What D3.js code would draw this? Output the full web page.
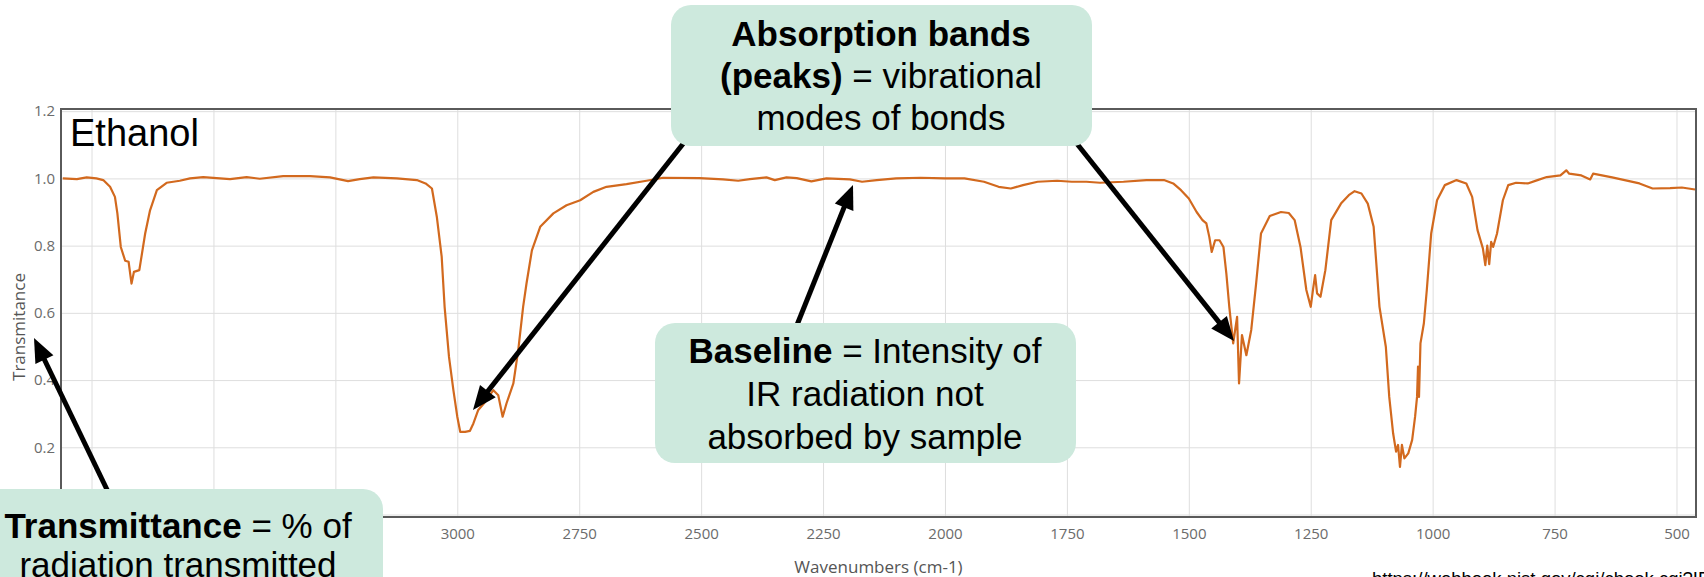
<!DOCTYPE html>
<html>
<head>
<meta charset="utf-8">
<script src="https://cdn.jsdelivr.net/npm/d3@7"></script>
<style>
    body { margin: 0; background: #fff; overflow: hidden; }
    .grid line { stroke: #dedede; stroke-width: 1; }
    .grid path { display: none; }
    .grid text { fill: #6b6b6b; font-family: "Open Sans", sans-serif; font-size: 15px; }
    .note text { font-family: "Liberation Sans", Arial, sans-serif; font-size: 35px; fill: #000; }
</style>
</head>
<body>
<svg id="spectrum" width="1704" height="577"></svg>
<script>
// IR spectrum of ethanol (wavenumber cm-1 -> transmittance)
const wavenumbers = [
    3809, 3780, 3760, 3740, 3726, 3712, 3702, 3697, 3690, 3681, 3674, 3668, 3663, 3652, 3640, 3630,
    3616, 3596, 3569, 3548, 3521, 3466, 3432, 3405, 3357, 3302, 3261, 3224, 3200, 3172, 3124, 3083,
    3065, 3052, 3042, 3032, 3026, 3017, 3008, 3000, 2994, 2984, 2974, 2967, 2957, 2943, 2926, 2916,
    2907, 2899, 2885, 2875, 2865, 2858, 2847, 2830, 2803, 2776, 2748, 2721, 2694, 2653, 2612, 2578,
    2503, 2455, 2424, 2400, 2366, 2349, 2325, 2304, 2274, 2243, 2195, 2170, 2140, 2100, 2050, 2000,
    1960, 1920, 1890, 1865, 1840, 1810, 1770, 1740, 1710, 1682, 1634, 1587, 1551, 1532, 1516, 1500,
    1484, 1472, 1464, 1458, 1453, 1446, 1437, 1429, 1423, 1417, 1409, 1405, 1401, 1397, 1391, 1382,
    1372, 1362, 1352, 1334, 1311, 1295, 1283, 1271, 1259, 1250, 1245, 1241, 1237, 1230, 1220, 1208,
    1188, 1172, 1160, 1146, 1133, 1121, 1109, 1096, 1089, 1081, 1075, 1071, 1067, 1063, 1058, 1050,
    1042, 1036, 1032, 1030, 1028, 1025, 1018, 1012, 1003, 991, 975, 951, 931, 919, 908, 897,
    892, 888, 884, 880, 876, 868, 856, 845, 829, 805, 785, 766, 738, 726, 720, 695,
    677, 671, 632, 576, 549, 513, 489, 462
];
const transmittance = [
    1.0, 0.998, 1.003, 1.0, 0.995, 0.975, 0.945, 0.896, 0.796, 0.755, 0.752, 0.687, 0.722, 0.727, 0.836, 0.905,
    0.965, 0.987, 0.993, 1.0, 1.004, 0.998, 1.004, 0.999, 1.007, 1.007, 1.003, 0.992, 0.998, 1.003, 1.0, 0.995,
    0.985, 0.97, 0.886, 0.767, 0.618, 0.469, 0.37, 0.291, 0.246, 0.246, 0.249, 0.271, 0.311, 0.335, 0.37, 0.355,
    0.291, 0.331, 0.39, 0.489, 0.618, 0.688, 0.786, 0.856, 0.896, 0.92, 0.935, 0.96, 0.975, 0.983, 0.993, 1.002,
    1.001, 0.997, 0.993, 0.998, 1.003, 0.995, 1.003, 1.001, 0.991, 1.0, 0.997, 0.99, 0.995, 1.0, 1.002, 1.0,
    1.0, 0.99, 0.975, 0.97, 0.98, 0.99, 0.993, 0.99, 0.99, 0.987, 0.99, 0.995, 0.995, 0.985, 0.965, 0.94,
    0.9, 0.876, 0.866, 0.826, 0.781, 0.816, 0.816, 0.796, 0.717, 0.618, 0.509, 0.549, 0.588, 0.39, 0.534, 0.474,
    0.549, 0.687, 0.836, 0.888, 0.9, 0.897, 0.876, 0.796, 0.668, 0.618, 0.673, 0.712, 0.658, 0.648, 0.727, 0.876,
    0.925, 0.95, 0.962, 0.955, 0.925, 0.856, 0.618, 0.499, 0.35, 0.241, 0.187, 0.207, 0.142, 0.207, 0.167, 0.182,
    0.222, 0.291, 0.35, 0.44, 0.35, 0.509, 0.569, 0.668, 0.836, 0.935, 0.98, 0.995, 0.985, 0.945, 0.846, 0.792,
    0.742, 0.8, 0.745, 0.811, 0.796, 0.836, 0.935, 0.98, 0.987, 0.985, 0.995, 1.004, 1.009, 1.024, 1.014, 1.009,
    0.997, 1.014, 1.003, 0.985, 0.97, 0.971, 0.973, 0.967
];

const xTicks = [3750, 3500, 3250, 3000, 2750, 2500, 2250, 2000, 1750, 1500, 1250, 1000, 750, 500];
const yTicks = [0, 0.2, 0.4, 0.6, 0.8, 1.0, 1.2];

const xTitle = "Wavenumbers (cm-1)";
const yTitle = "Transmitance";
const sampleName = "Ethanol";
const sourceUrl = "https://webbook.nist.gov/cgi/cbook.cgi?ID=C64175&Type=IR-SPEC";

// callout texts: each line is a list of [text, bold]
const peaksNote = [
    [["Absorption bands", true]],
    [["(peaks)", true], [" = vibrational", false]],
    [["modes of bonds", false]]
];
const baselineNote = [
    [["Baseline", true], [" = Intensity of", false]],
    [["IR radiation not", false]],
    [["absorbed by sample", false]]
];
const transNote = [
    [["Transmittance", true], [" = % of", false]],
    [["radiation transmitted", false]]
];

const drawSpectrum = ()=>{
    let svg = d3.select("#spectrum");

    let margin = {
        top: 109,
        left: 61,
        right: 8,
        bottom: 60
    };

    let width = svg.attr("width") - margin.left - margin.right;
    let height = svg.attr("height") - margin.top - margin.bottom;

    let g = svg.append("g").attr("transform", "translate(" + margin.left + "," + margin.top + ")");

    let xScale = d3.scaleLinear().range([0, width]).domain([3812.6, 460]);
    let yScale = d3.scaleLinear().range([height, 0]).domain([-0.0074, 1.2065]);

    let xAxis = d3.axisBottom(xScale).tickValues(xTicks).tickSize(-height).tickPadding(11)
        .tickFormat(d3.format("d"));
    let yAxis = d3.axisLeft(yScale).tickValues(yTicks).tickSize(-width).tickPadding(6)
        .tickFormat(d3.format(".1f"));

    g.append("g")
        .attr("class", "grid")
        .attr("transform", "translate(0," + height + ")")
        .call(xAxis);

    g.append("g")
        .attr("class", "grid")
        .call(yAxis);

    g.append("rect")
        .attr("width", width)
        .attr("height", height)
        .attr("fill", "none")
        .attr("stroke", "#5a5a5a")
        .attr("stroke-width", 2);

    let points = wavenumbers.map((w, i)=>[w, transmittance[i]]);

    let line = d3.line()
        .x((d)=>xScale(d[0]))
        .y((d)=>yScale(d[1]));

    g.append("path")
        .datum(points)
        .attr("d", line)
        .attr("fill", "none")
        .attr("stroke", "#d2691e")
        .attr("stroke-width", 2.2)
        .attr("stroke-linejoin", "round");

    svg.append("text")
        .text(xTitle)
        .attr("x", margin.left + width / 2)
        .attr("y", 573)
        .attr("text-anchor", "middle")
        .attr("font-family", "Open Sans, sans-serif")
        .attr("font-size", "17px")
        .attr("fill", "#555");

    svg.append("text")
        .text(yTitle)
        .attr("transform", "translate(25,327) rotate(-90)")
        .attr("text-anchor", "middle")
        .attr("font-family", "Open Sans, sans-serif")
        .attr("font-size", "17px")
        .attr("fill", "#555");

    svg.append("text")
        .text(sampleName)
        .attr("x", 70)
        .attr("y", 146)
        .attr("font-family", "Liberation Sans, Arial, sans-serif")
        .attr("font-size", "38px")
        .attr("fill", "#000");

    svg.append("text")
        .text(sourceUrl)
        .attr("x", 1372)
        .attr("y", 585)
        .attr("font-family", "Liberation Sans, Arial, sans-serif")
        .attr("font-size", "18.5px")
        .attr("fill", "#000");
}

const drawArrow = (svg, x1, y1, x2, y2)=>{
    let len = Math.hypot(x2 - x1, y2 - y1);
    let ux = (x2 - x1) / len, uy = (y2 - y1) / len;
    let headL = 24, headW = 20;
    let bx = x2 - ux * headL, by = y2 - uy * headL;

    svg.append("line")
        .attr("x1", x1).attr("y1", y1)
        .attr("x2", bx + ux * 4).attr("y2", by + uy * 4)
        .attr("stroke", "#000")
        .attr("stroke-width", 5);

    svg.append("polygon")
        .attr("points", [
            [x2, y2],
            [bx - uy * headW / 2, by + ux * headW / 2],
            [bx + uy * headW / 2, by - ux * headW / 2]
        ].map((p)=>p.join(",")).join(" "))
        .attr("fill", "#000");
}

const drawNote = (svg, lines, box, cx, firstBaseline, lineGap)=>{
    let note = svg.append("g").attr("class", "note");

    note.append("rect")
        .attr("x", box[0])
        .attr("y", box[1])
        .attr("width", box[2])
        .attr("height", box[3])
        .attr("rx", 20)
        .attr("fill", "#cde9dd");

    lines.forEach((parts, i)=>{
        let t = note.append("text")
            .attr("x", cx)
            .attr("y", firstBaseline + i * lineGap)
            .attr("text-anchor", "middle");
        parts.forEach((p)=>{
            t.append("tspan")
                .text(p[0])
                .attr("font-weight", p[1] ? "bold" : "normal");
        });
    });
}

const drawNotes = ()=>{
    let svg = d3.select("#spectrum");

    drawArrow(svg, 690, 135, 473, 410);
    drawArrow(svg, 1070, 135, 1234, 341);
    drawArrow(svg, 795, 330, 853, 185);
    drawArrow(svg, 112, 500, 34, 338);

    drawNote(svg, peaksNote, [671, 5, 421, 141], 881, 46, 42);
    drawNote(svg, baselineNote, [655, 323, 421, 140], 865, 363, 43);
    drawNote(svg, transNote, [-30, 489, 413, 120], 178, 538, 39);
}

window.onload = function(){
    drawSpectrum();
    drawNotes();
}
</script>
</body>
</html>
